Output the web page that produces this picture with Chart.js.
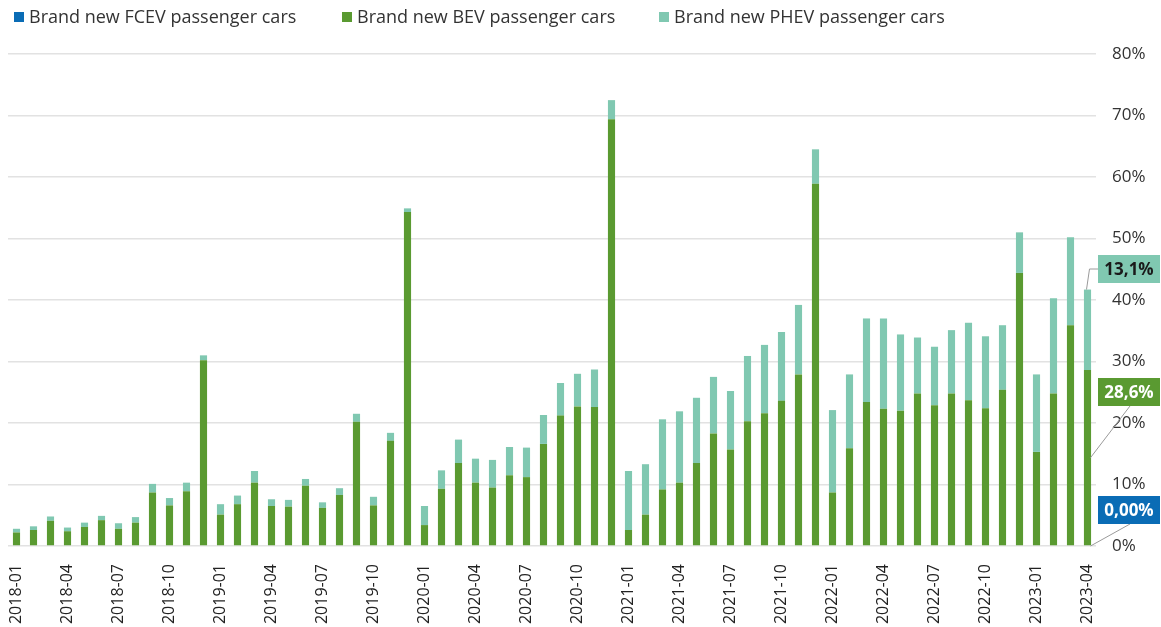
<!DOCTYPE html>
<html lang="en">
<head>
<meta charset="UTF-8">
<title>Brand new passenger cars share</title>
<script src="https://cdn.jsdelivr.net/npm/chart.js"></script>
<style>
  html, body { margin: 0; padding: 0; background: #fff; }
  .wrap { width: 1161px; height: 627px; position: relative; }
</style>
</head>
<body>
<div class="wrap"><canvas id="evChart" width="1161" height="627"></canvas></div>
<script>
// months 2018-01 .. 2023-04
const months = [];
for (let y = 2018; y <= 2023; y++) {
  for (let m = 1; m <= 12; m++) {
    if (y === 2023 && m > 4) break;
    months.push(y + '-' + String(m).padStart(2, '0'));
  }
}

// shares in % of brand new passenger cars
const fcevShare = new Array(64).fill(0);
const bevShare = [
  2.2, 2.6, 4.1, 2.4, 3.1, 4.2, 2.8, 3.8, 8.7, 6.6, 8.9, 30.2,
  5.1, 6.8, 10.3, 6.5, 6.4, 9.8, 6.2, 8.3, 20.2, 6.6, 17.1, 54.3,
  3.4, 9.3, 13.5, 10.3, 9.5, 11.5, 11.2, 16.6, 21.2, 22.7, 22.6, 69.4,
  2.6, 5.1, 9.2, 10.3, 13.5, 18.3, 15.7, 20.3, 21.6, 23.6, 27.9, 58.9,
  8.7, 15.9, 23.4, 22.3, 22.0, 24.8, 22.9, 24.8, 23.7, 22.4, 25.4, 44.4,
  15.3, 24.8, 35.9, 28.6
];
const phevShare = [
  0.6, 0.6, 0.7, 0.6, 0.7, 0.7, 0.9, 0.9, 1.4, 1.2, 1.4, 0.8,
  1.7, 1.4, 1.9, 1.1, 1.1, 1.1, 0.9, 1.1, 1.3, 1.4, 1.3, 0.6,
  3.1, 3.0, 3.8, 3.9, 4.5, 4.6, 4.8, 4.7, 5.3, 5.3, 6.1, 3.1,
  9.6, 8.2, 11.4, 11.6, 10.6, 9.2, 9.5, 10.6, 11.1, 11.2, 11.3, 5.6,
  13.4, 12.0, 13.6, 14.7, 12.4, 9.1, 9.5, 10.3, 12.6, 11.7, 10.5, 6.6,
  12.6, 15.5, 14.3, 13.1
];
const yTicks = [0, 10, 20, 30, 40, 50, 60, 70, 80];

const C_FCEV = '#0a6cb5';
const C_BEV = '#5a9a31';
const C_PHEV = '#80c8b1';

// legend row at the top, left aligned with fixed slots
const legendPlugin = {
  id: 'topLegend',
  afterDraw(chart) {
    const ctx = chart.ctx;
    const xs = [14, 342, 659];
    ctx.save();
    ctx.font = '18px "Open Sans"';
    ctx.textBaseline = 'middle';
    ctx.textAlign = 'left';
    chart.data.datasets.forEach((ds, i) => {
      ctx.fillStyle = ds.backgroundColor;
      ctx.fillRect(xs[i], 12, 10, 10);
      ctx.fillStyle = '#333';
      ctx.fillText(ds.label, xs[i] + 15, 18);
    });
    ctx.restore();
  }
};

// callout boxes for the last month
const calloutPlugin = {
  id: 'callouts',
  afterDatasetsDraw(chart) {
    const ctx = chart.ctx;
    const last = months.length - 1;
    const fc = chart.getDatasetMeta(0).data[last];
    const bev = chart.getDatasetMeta(1).data[last];
    const ph = chart.getDatasetMeta(2).data[last];
    const bx = 1098, bw = 62, bh = 28;
    const items = [
      { text: phevShare[last].toFixed(1).replace('.', ',') + '%', bg: C_PHEV, fg: '#1a1a1a', top: 255,
        path: [[ph.x - 1, ph.y], [ph.x + 2, 269], [bx, 269]] },
      { text: bevShare[last].toFixed(1).replace('.', ',') + '%', bg: C_BEV, fg: '#fff', top: 378,
        path: [[bev.x + 3, (bev.y + bev.base) / 2], [1130, 406]] },
      { text: fcevShare[last].toFixed(2).replace('.', ',') + '%', bg: C_FCEV, fg: '#fff', top: 496,
        path: [[fc.x + 3, fc.base], [1130, 524]] }
    ];
    ctx.save();
    items.forEach(it => {
      ctx.strokeStyle = '#9a9a9a';
      ctx.lineWidth = 1;
      ctx.beginPath();
      it.path.forEach((p, i) => i ? ctx.lineTo(p[0], p[1]) : ctx.moveTo(p[0], p[1]));
      ctx.stroke();
      ctx.fillStyle = it.bg;
      ctx.fillRect(bx, it.top, bw, bh);
      ctx.fillStyle = it.fg;
      ctx.font = 'bold 17px "Open Sans"';
      ctx.textAlign = 'center';
      ctx.textBaseline = 'middle';
      ctx.fillText(it.text, bx + bw / 2, it.top + bh / 2 + 1);
    });
    ctx.restore();
  }
};

new Chart(document.getElementById('evChart'), {
  type: 'bar',
  data: {
    labels: months,
    datasets: [
      { label: 'Brand new FCEV passenger cars', data: fcevShare, backgroundColor: C_FCEV },
      { label: 'Brand new BEV passenger cars', data: bevShare, backgroundColor: C_BEV },
      { label: 'Brand new PHEV passenger cars', data: phevShare, backgroundColor: C_PHEV }
    ]
  },
  options: {
    responsive: false,
    animation: false,
    layout: { padding: { left: 8, right: 0, top: 54, bottom: 0 } },
    datasets: { bar: { categoryPercentage: 1, barPercentage: 0.42 } },
    plugins: {
      legend: { display: false },
      tooltip: { enabled: false }
    },
    scales: {
      x: {
        stacked: true,
        grid: { display: false },
        border: { display: false },
        ticks: {
          autoSkip: false, maxRotation: 90, minRotation: 90,
          color: '#222', font: { family: 'Open Sans', size: 16 },
          padding: 10,
          callback: (v, i) => (i % 3 === 0 ? months[i] : '')
        },
        afterFit: s => { s.height = 81; }
      },
      y: {
        stacked: true,
        position: 'right',
        min: 0, max: 80,
        afterBuildTicks: s => { s.ticks = yTicks.map(v => ({ value: v })); },
        grid: { color: '#e2e2e2', lineWidth: 1.5, drawTicks: false },
        border: { display: false },
        ticks: {
          color: '#333', font: { family: 'Open Sans', size: 17 }, padding: 16,
          callback: v => v + '%'
        },
        afterFit: s => { s.width = 65; }
      }
    }
  },
  plugins: [calloutPlugin, legendPlugin]
});
</script>
</body>
</html>
